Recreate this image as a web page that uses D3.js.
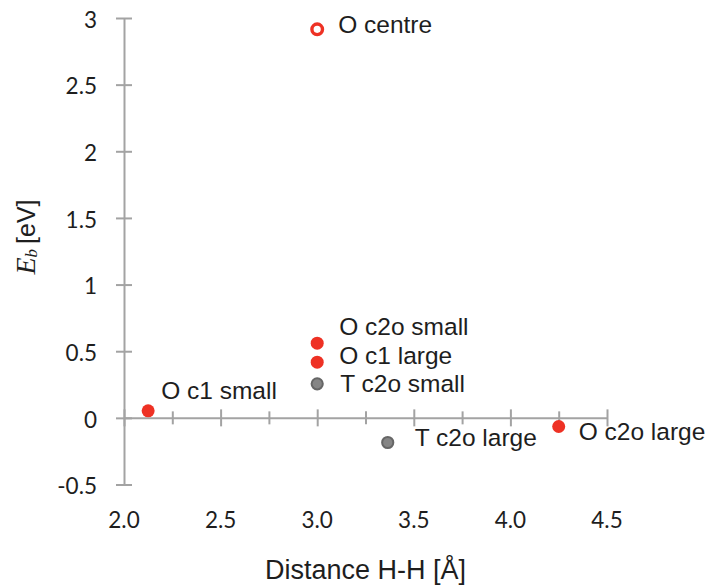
<!DOCTYPE html>
<html>
<head>
<meta charset="utf-8">
<script src="https://cdn.jsdelivr.net/npm/d3@7"></script>
<style>
  html, body { margin: 0; padding: 0; background: #ffffff; }
  svg { display: block; }
</style>
</head>
<body>
<svg id="chart" width="710" height="585"></svg>
<script>
// ---- data ----
const pointNames = ["O centre", "O c2o small", "O c1 large", "T c2o small", "O c1 small", "T c2o large", "O c2o large"];
const distances  = [3.0, 3.0, 3.0, 3.0, 2.125, 3.365, 4.25];
const energies   = [2.915, 0.56, 0.418, 0.255, 0.053, -0.185, -0.065];
const pointKinds = ["open", "O", "O", "T", "O", "T", "O"];
const xTickValues = [2.0, 2.5, 3.0, 3.5, 4.0, 4.5];
const xMinorTickValues = [2.25, 2.75, 3.25, 3.75, 4.25];
const yTickValues = [-0.5, 0, 0.5, 1, 1.5, 2, 2.5, 3];
const yTickLabels = ["-0.5", "0", "0.5", "1", "1.5", "2", "2.5", "3"];
const xTickLabels = ["2.0", "2.5", "3.0", "3.5", "4.0", "4.5"];

// label placement (offsets from the marker, px) — layout only
const labelDx = [21, 22, 22, 23, 13, 27, 20];
const labelDy = [4, -8, 2, 8, -12, 3, 13];

const svg = d3.select("#chart");
const axisColor = "#a3a3a3";
const textColor = "#1e1e1e";
const red = "#ee3124";

const x = d3.scaleLinear().domain([2.0, 4.5]).range([124, 607]);
const y = d3.scaleLinear().domain([-0.5, 3]).range([484.5, 18]);

// ---- y axis ----
const yAxis = d3.axisLeft(y).tickValues(yTickValues).tickSize(0).tickFormat("");
const gy = svg.append("g").attr("transform", `translate(${x(2.0)},0)`).call(yAxis);
gy.select(".domain").attr("stroke", axisColor).attr("stroke-width", 2);
gy.selectAll(".tick line").remove();
gy.selectAll(".tick").append("line")
  .attr("x1", -8).attr("x2", 8)
  .attr("stroke", axisColor).attr("stroke-width", 2);

svg.append("g").selectAll("text")
  .data(yTickValues)
  .join("text")
  .attr("x", 97)
  .attr("y", d => y(d) + 4)
  .attr("text-anchor", "end")
  .attr("dominant-baseline", "middle")
  .attr("font-family", "Lato, 'Open Sans', sans-serif")
  .attr("font-size", 22.5)
  .attr("fill", textColor)
  .text((d, i) => yTickLabels[i]);

// ---- x axis (crosses at y=0) ----
const xAxis = d3.axisBottom(x).tickValues(xTickValues).tickSize(0).tickFormat("");
const gx = svg.append("g").attr("transform", `translate(0,${y(0)})`).call(xAxis);
gx.select(".domain").attr("stroke", axisColor).attr("stroke-width", 2);
gx.selectAll(".tick line").remove();
gx.selectAll(".tick").append("line")
  .attr("y1", -8.5).attr("y2", 8.5)
  .attr("stroke", axisColor).attr("stroke-width", 2);

const xMinor = d3.axisBottom(x).tickValues(xMinorTickValues).tickSize(0).tickFormat("");
const gxm = svg.append("g").attr("transform", `translate(0,${y(0)})`).call(xMinor);
gxm.select(".domain").remove();
gxm.selectAll(".tick line").remove();
gxm.selectAll(".tick").append("line")
  .attr("y1", -6.5).attr("y2", 6.5)
  .attr("stroke", axisColor).attr("stroke-width", 2);

svg.append("g").selectAll("text")
  .data(xTickValues)
  .join("text")
  .attr("x", d => x(d))
  .attr("y", 522)
  .attr("text-anchor", "middle")
  .attr("dominant-baseline", "middle")
  .attr("font-family", "Lato, 'Open Sans', sans-serif")
  .attr("font-size", 22.5)
  .attr("fill", textColor)
  .text((d, i) => xTickLabels[i]);

// ---- axis titles ----
svg.append("text")
  .attr("x", (x(2.0) + x(4.5)) / 2)
  .attr("y", 579)
  .attr("text-anchor", "middle")
  .attr("font-family", "'Liberation Sans', Arial, sans-serif")
  .attr("font-size", 27)
  .attr("fill", textColor)
  .text("Distance H-H [Å]");

const yt = svg.append("text")
  .attr("transform", "translate(35,237) rotate(-90)")
  .attr("text-anchor", "middle")
  .attr("fill", textColor);
yt.append("tspan")
  .attr("font-family", "'Liberation Serif', 'Times New Roman', serif")
  .attr("font-style", "italic")
  .attr("font-size", 28)
  .text("E");
yt.append("tspan")
  .attr("font-family", "'Liberation Serif', 'Times New Roman', serif")
  .attr("font-style", "italic")
  .attr("font-size", 17)
  .attr("dy", 2)
  .text("b");
yt.append("tspan")
  .attr("font-family", "'Liberation Sans', Arial, sans-serif")
  .attr("font-size", 25)
  .attr("dy", -2)
  .attr("dx", 5)
  .text("[eV]");

// ---- points ----
const pts = pointNames.map((n, i) => ({ name: n, dist: distances[i], e: energies[i], kind: pointKinds[i], i }));

svg.append("g").selectAll("circle")
  .data(pts)
  .join("circle")
  .attr("cx", d => x(d.dist))
  .attr("cy", d => y(d.e))
  .attr("r", d => d.kind === "open" ? 5.3 : (d.kind === "T" ? 5.6 : 6.5))
  .attr("fill", d => d.kind === "open" ? "#ffffff" : (d.kind === "T" ? "#858585" : red))
  .attr("stroke", d => d.kind === "open" ? red : (d.kind === "T" ? "#666666" : "none"))
  .attr("stroke-width", d => d.kind === "open" ? 3.4 : (d.kind === "T" ? 2 : 0));

svg.append("g").selectAll("text")
  .data(pts)
  .join("text")
  .attr("x", d => x(d.dist) + labelDx[d.i])
  .attr("y", d => y(d.e) + labelDy[d.i])
  .attr("font-family", "'Liberation Sans', Arial, sans-serif")
  .attr("font-size", 24.5)
  .attr("fill", textColor)
  .text(d => d.name);
</script>
</body>
</html>
